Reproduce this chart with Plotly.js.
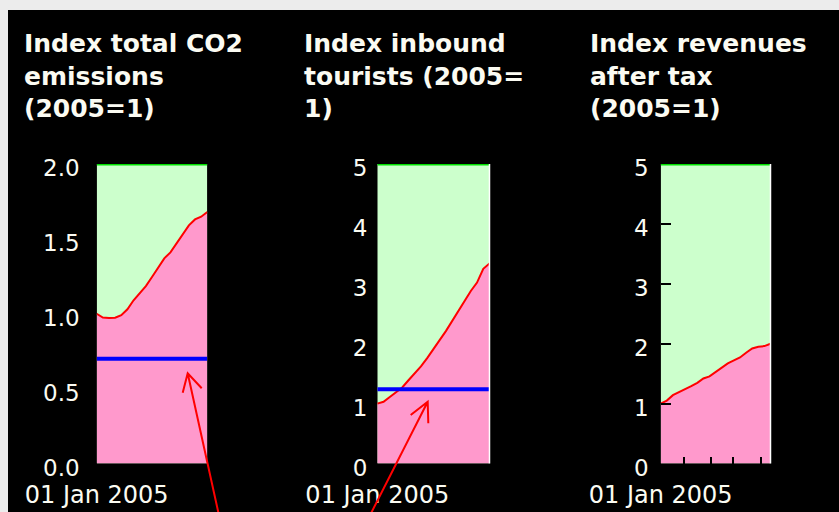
<!DOCTYPE html>
<html>
<head>
<meta charset="utf-8">
<script src="https://cdn.plot.ly/plotly-3.0.1.min.js"></script>
<style>
html,body{margin:0;padding:0;background:#ececec;}
#chart{width:839px;height:512px;}
</style>
</head>
<body>
<div id="chart"></div>
<script>
// ---- data ----
const years = [2005, 2007.5, 2010, 2012.5, 2015, 2017.5, 2020, 2022.5, 2025, 2027.5,
               2030, 2032.5, 2035, 2037.5, 2040, 2042.5, 2045, 2047.5, 2050];
const co2Index = [1.00, 0.975, 0.972, 0.973, 0.99, 1.03, 1.09, 1.14, 1.185, 1.245,
                  1.31, 1.37, 1.41, 1.47, 1.535, 1.59, 1.63, 1.648, 1.68];
const touristIndex = [1.00, 1.03, 1.11, 1.19, 1.27, 1.39, 1.50, 1.62, 1.76, 1.92,
                      2.06, 2.21, 2.38, 2.53, 2.72, 2.88, 3.02, 3.25, 3.34];
const revenueIndex = [1.00, 1.05, 1.14, 1.19, 1.23, 1.29, 1.345, 1.42, 1.455, 1.53,
                      1.59, 1.67, 1.72, 1.77, 1.85, 1.92, 1.95, 1.96, 2.00];
const co2Target = 0.7;
const touristTarget = 1.24;
const co2Max = 2;
const touristMax = 5;
const revenueMax = 5;
const titles = ["Index total CO2<br>emissions<br>(2005=1)",
                "Index inbound<br>tourists (2005=<br>1)",
                "Index revenues<br>after tax<br>(2005=1)"];
const xTickLabel = "01 Jan 2005";
const rev_xTicks = [2005, 2014.5, 2025.7, 2034.7, 2046];
const co2_yTicks = [0, 0.5, 1.0, 1.5, 2.0];
const idx_yTicks = [0, 1, 2, 3, 4, 5];

// ---- styling ----
const W = 839, H = 512;
const px = x => x / W;
const py = y => 1 - y / H;
const GREEN_FILL = '#ccffcc', GREEN_LINE = '#00e000', PINK = '#ff99cc';
const TXT = '#fbfbf2';
const FONT = 'DejaVu Sans, Verdana, sans-serif';

function panel(idx, values, maxVal, target) {
  const xa = idx === 1 ? 'x' : 'x' + idx;
  const ya = idx === 1 ? 'y' : 'y' + idx;
  const out = [
    {x: years, y: years.map(() => maxVal), xaxis: xa, yaxis: ya, type: 'scatter', mode: 'lines',
     fill: 'tozeroy', fillcolor: GREEN_FILL, line: {color: GREEN_LINE, width: 3}, hoverinfo: 'skip'},
    {x: years, y: values, xaxis: xa, yaxis: ya, type: 'scatter', mode: 'lines',
     fill: 'tozeroy', fillcolor: PINK, line: {color: '#ff0000', width: 2}, hoverinfo: 'skip'}
  ];
  if (target !== null) {
    out.push({x: years, y: years.map(() => target), xaxis: xa, yaxis: ya, type: 'scatter',
              mode: 'lines', line: {color: '#0000ff', width: 4}, hoverinfo: 'skip'});
  }
  return out;
}

const data = [].concat(
  panel(1, co2Index, co2Max, co2Target),
  panel(2, touristIndex, touristMax, touristTarget),
  panel(3, revenueIndex, revenueMax, null)
);

const yDom = [py(463.5), py(164)];
function xAxis(dom, tickvals, inside) {
  return {
    domain: dom, range: [2005, 2050], showgrid: false, zeroline: false, showline: false,
    tickmode: 'array', tickvals: tickvals,
    ticktext: tickvals.map((v, i) => i === 0 ? xTickLabel : ''),
    ticks: inside ? 'inside' : '', ticklen: 7, tickwidth: 2, tickcolor: '#000',
    ticklabelstandoff: 14,
    tickfont: {family: FONT, size: 24, color: TXT}, fixedrange: true
  };
}
function yAxis(dom, anchor, range, tickvals, fmt, inside, standoff) {
  return {
    domain: dom, anchor: anchor, range: range, showgrid: false, zeroline: false, showline: false,
    tickmode: 'array', tickvals: tickvals, ticktext: tickvals.map(v => fmt(v)),
    ticks: inside ? 'inside' : '', ticklen: 10, tickwidth: 2, tickcolor: '#000',
    ticklabelstandoff: standoff, ticklabelshift: 4,
    tickfont: {family: FONT, size: 23, color: TXT}, fixedrange: true
  };
}

const layout = {
  width: W, height: H,
  margin: {l: 0, r: 0, t: 0, b: 0},
  paper_bgcolor: '#ececec', plot_bgcolor: '#000000',
  showlegend: false,
  xaxis: Object.assign(xAxis([px(96.7), px(207.3)], [2005], false), {anchor: 'y'}),
  yaxis: yAxis(yDom, 'x', [0, co2Max], co2_yTicks, v => v.toFixed(1), false, 16),
  xaxis2: Object.assign(xAxis([px(377.3), px(489.5)], [2005], false), {anchor: 'y2'}),
  yaxis2: yAxis(yDom, 'x2', [0, touristMax], idx_yTicks, v => String(v), false, 9),
  xaxis3: Object.assign(xAxis([px(660.7), px(770.5)], rev_xTicks, true), {anchor: 'y3'}),
  yaxis3: yAxis(yDom, 'x3', [0, revenueMax], idx_yTicks, v => String(v), true, 11),
  shapes: [
    {type: 'rect', xref: 'paper', yref: 'paper', x0: px(8), x1: 1.01, y0: -0.01, y1: py(10),
     fillcolor: '#000000', line: {width: 0}, layer: 'below'},
    {type: 'line', xref: 'x2 domain', yref: 'y2 domain', x0: 1, x1: 1, y0: 0, y1: 1,
     line: {color: '#ffffff', width: 1.5}},
    {type: 'line', xref: 'x3 domain', yref: 'y3 domain', x0: 1, x1: 1, y0: 0, y1: 1,
     line: {color: '#ffffff', width: 1.5}},
    {type: 'path', xref: 'paper', yref: 'paper',
     path: `M${px(220)},${py(520)} L${px(187.7)},${py(373.3)} M${px(182.7)},${py(392.7)} L${px(187.7)},${py(373.3)} L${px(201.7)},${py(388.3)}`,
     line: {color: '#ff0000', width: 2}},
    {type: 'path', xref: 'paper', yref: 'paper',
     path: `M${px(367.6)},${py(520)} L${px(427.7)},${py(401.7)} M${px(410.7)},${py(415)} L${px(427.7)},${py(401.7)} L${px(428.3)},${py(423.3)}`,
     line: {color: '#ff0000', width: 2}}
  ],
  annotations: titles.map((t, i) => ({
    text: '<b>' + t + '</b>', xref: 'paper', yref: 'paper',
    x: px([22, 302, 588][i]), y: py(27), xanchor: 'left', yanchor: 'top', align: 'left',
    showarrow: false, font: {family: FONT, size: 25, color: TXT}
  }))
};

Plotly.newPlot('chart', data, layout, {staticPlot: true, displayModeBar: false});
</script>
</body>
</html>
